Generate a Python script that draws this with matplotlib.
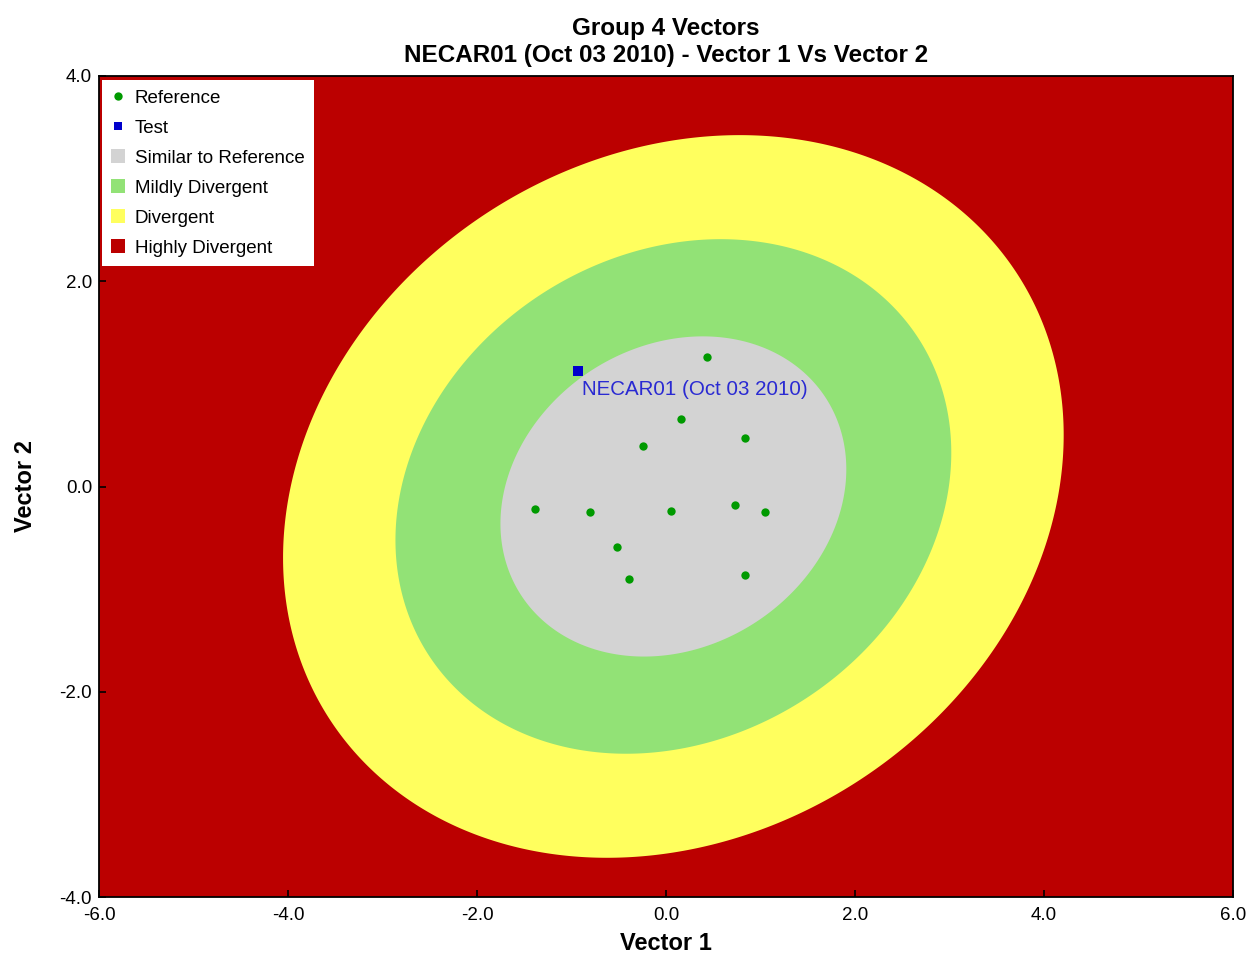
import numpy as np
import matplotlib
matplotlib.use("Agg")
import matplotlib.pyplot as plt
from matplotlib.lines import Line2D
from matplotlib.patches import Patch

plt.rcParams['font.family'] = ['Liberation Sans', 'DejaVu Sans']

# Reference observations (Vector 1, Vector 2)
ref_x = [0.43, 0.16, 0.84, -0.24, -1.39, -0.80, 0.05, 0.73, 1.05, -0.52, -0.39, 0.84]
ref_y = [1.26, 0.66, 0.47, 0.39, -0.22, -0.25, -0.24, -0.18, -0.25, -0.59, -0.90, -0.86]

# Test observation
test_x = [-0.93]
test_y = [1.13]
test_label = "NECAR01 (Oct 03 2010)"

# Divergence zones: shared centre/shape, scaled per zone
zone_center = (0.078, -0.097)
zone_half_x = 1.83
zone_half_y = 1.56
zone_corr = 0.17
zone_names = ["Divergent", "Mildly Divergent", "Similar to Reference"]
zone_scales = [2.257, 1.607, 1.0]
zone_colors = ["#ffff5e", "#92e276", "#d3d3d3"]
outer_name = "Highly Divergent"
outer_color = "#bb0000"

xticks = [-6.0, -4.0, -2.0, 0.0, 2.0, 4.0, 6.0]
yticks = [-4.0, -2.0, 0.0, 2.0, 4.0]

ref_color = "#009a00"
test_color = "#0000cc"

fig = plt.figure(figsize=(12.48, 9.56), dpi=100)
ax = fig.add_axes([99 / 1248, 1 - 897 / 956, (1233 - 99) / 1248, (897 - 76) / 956])
ax.set_facecolor(outer_color)

t = np.linspace(0, 2 * np.pi, 721)
for s, c in zip(zone_scales, zone_colors):
    hx = zone_half_x * s
    hy = zone_half_y * s
    ex = zone_center[0] + hx * np.cos(t)
    ey = zone_center[1] + hy * (zone_corr * np.cos(t) + np.sqrt(1 - zone_corr ** 2) * np.sin(t))
    ax.fill(ex, ey, color=c, lw=0, zorder=1)

ax.plot(ref_x, ref_y, 'o', color=ref_color, markersize=6, markeredgewidth=0, zorder=3)
ax.plot(test_x, test_y, 's', color=test_color, markersize=6.5, markeredgewidth=0, zorder=3)
ax.annotate(test_label, (test_x[0], test_y[0]), xytext=(2.5, -13.5), textcoords='offset points',
            ha='left', va='center', fontsize=14.8, color='#2a2ad2', zorder=4)

ax.set_xlim(-6, 6)
ax.set_ylim(-4, 4)
ax.set_xticks(xticks)
ax.set_yticks(yticks)
ax.set_xticklabels([f"{v:.1f}" for v in xticks])
ax.set_yticklabels([f"{v:.1f}" for v in yticks])
ax.tick_params(direction='in', length=5, width=1.2, labelsize=13.5, colors='black')
ax.tick_params(axis='x', pad=7)
ax.tick_params(axis='y', pad=5)
for sp in ax.spines.values():
    sp.set_linewidth(1.3)
    sp.set_color('black')
    sp.set_zorder(5)

ax.set_xlabel("Vector 1", fontsize=17, fontweight='bold', labelpad=6)
ax.set_ylabel("Vector 2", fontsize=17, fontweight='bold', labelpad=16)
ax.set_title("Group 4 Vectors\nNECAR01 (Oct 03 2010) - Vector 1 Vs Vector 2",
             fontsize=17.5, fontweight='bold', pad=10, linespacing=1.25)

handles = [
    Line2D([], [], marker='o', color=ref_color, linestyle='none', markersize=6, markeredgewidth=0),
    Line2D([], [], marker='s', color=test_color, linestyle='none', markersize=6, markeredgewidth=0),
    Patch(facecolor=zone_colors[2], edgecolor='none'),
    Patch(facecolor=zone_colors[1], edgecolor='none'),
    Patch(facecolor=zone_colors[0], edgecolor='none'),
    Patch(facecolor=outer_color, edgecolor='none'),
]
labels = ["Reference", "Test", zone_names[2], zone_names[1], zone_names[0], outer_name]
leg = ax.legend(handles, labels, loc='upper left', bbox_to_anchor=(3 / 1134, 1 - 4 / 821),
                borderaxespad=0, fontsize=13.5, frameon=True, fancybox=False,
                facecolor='white', edgecolor='none', framealpha=1,
                handlelength=0.75, handleheight=0.75, handletextpad=0.5,
                labelspacing=0.67, borderpad=0.5)
leg.set_zorder(6)

fig.savefig("out.png", dpi=100)
